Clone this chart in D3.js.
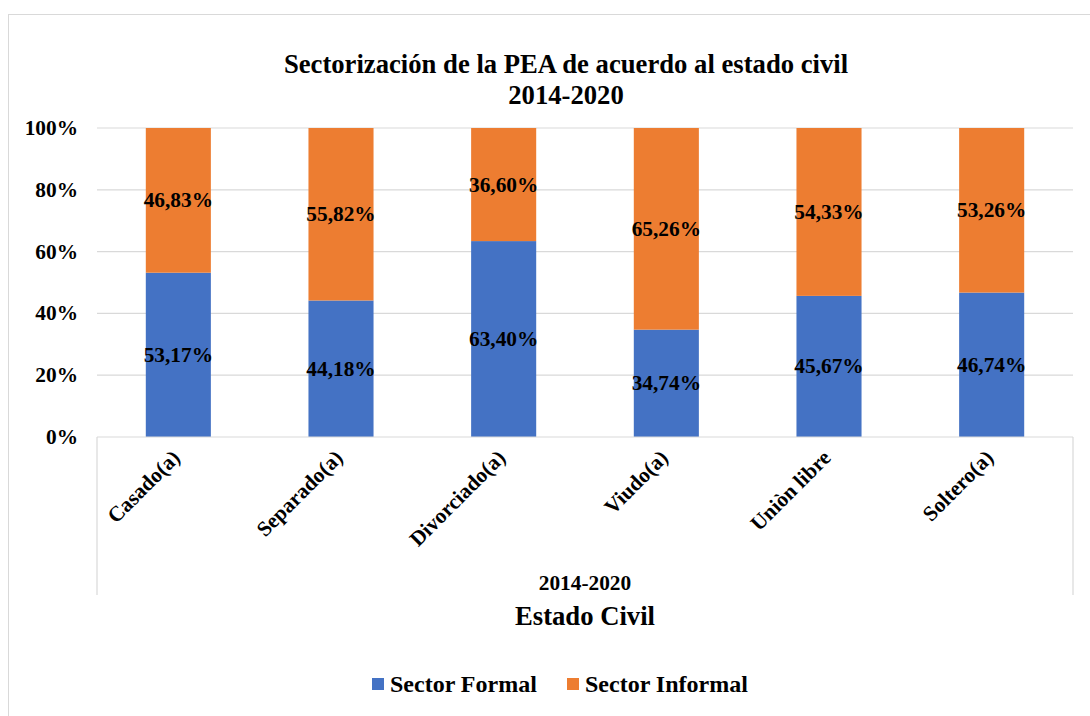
<!DOCTYPE html>
<html>
<head>
<meta charset="utf-8">
<script src="https://cdn.jsdelivr.net/npm/d3@7"></script>
</head>
<body style="margin:0; background:#fff">
<svg id="chart" width="1090" height="716"></svg>
<script>
var categories = ["Casado(a)", "Separado(a)", "Divorciado(a)", "Viudo(a)", "Uniòn libre", "Soltero(a)"];
var formal = [53.17, 44.18, 63.40, 34.74, 45.67, 46.74];
var informal = [46.83, 55.82, 36.60, 65.26, 54.33, 53.26];
var seriesNames = ["Sector Formal", "Sector Informal"];
var seriesColors = ["#4472C4", "#ED7D31"];
var yTicks = [0, 20, 40, 60, 80, 100];

var FONT = "'Liberation Serif'";
var svg = d3.select("#chart");

function label(sel, size) {
    return sel.style("font-family", FONT)
        .style("font-weight", "bold")
        .style("font-size", size + "px")
        .attr("fill", "#000");
}

// chart frame
svg.append("rect")
    .attr("x", 8.5).attr("y", 14.5)
    .attr("width", 1100).attr("height", 720)
    .attr("fill", "white")
    .attr("stroke", "#d9d9d9");

var margin = {top: 128, left: 97, right: 1073, bottom: 437};

var x = d3.scaleBand()
    .domain(categories)
    .range([margin.left, margin.right])
    .padding(0);

var y = d3.scaleLinear()
    .domain([0, 100])
    .range([margin.bottom, margin.top]);

var fmt = function(v) { return v.toFixed(2).replace(".", ",") + "%"; };

// title
label(svg.append("text"), 26.67)
    .attr("x", 566).attr("y", 73)
    .attr("text-anchor", "middle")
    .text("Sectorización de la PEA de acuerdo al estado civil");
label(svg.append("text"), 26.67)
    .attr("x", 566).attr("y", 104)
    .attr("text-anchor", "middle")
    .text("2014-2020");

// gridlines
svg.selectAll(".grid")
    .data(yTicks.filter(function(d) { return d > 0; }))
    .enter()
    .append("line")
    .attr("x1", margin.left).attr("x2", margin.right)
    .attr("y1", function(d) { return y(d); })
    .attr("y2", function(d) { return y(d); })
    .attr("stroke", "#d9d9d9")
    .attr("stroke-width", 1.2);

// y axis labels
label(svg.selectAll(".ylab")
    .data(yTicks)
    .enter()
    .append("text"), 21.33)
    .attr("x", 78)
    .attr("y", function(d) { return y(d) + 7; })
    .attr("text-anchor", "end")
    .text(function(d) { return d + "%"; });

// stacked bars
var rows = categories.map(function(c, i) {
    return {cat: c, formal: formal[i], informal: informal[i]};
});
var stack = d3.stack().keys(["formal", "informal"])(rows);

var bw = x.bandwidth() * 0.4;
var off = x.bandwidth() * 0.3;

stack.forEach(function(layer, k) {
    svg.selectAll(".bar" + k)
        .data(layer)
        .enter()
        .append("rect")
        .attr("x", function(d) { return x(d.data.cat) + off; })
        .attr("y", function(d) { return y(d[1]); })
        .attr("width", bw)
        .attr("height", function(d) { return y(d[0]) - y(d[1]); })
        .attr("fill", seriesColors[k]);
});
stack.forEach(function(layer, k) {
    label(svg.selectAll(".lab" + k)
        .data(layer)
        .enter()
        .append("text"), 21.33)
        .attr("x", function(d) { return x(d.data.cat) + x.bandwidth() / 2; })
        .attr("y", function(d) { return (y(d[0]) + y(d[1])) / 2 + 7; })
        .attr("text-anchor", "middle")
        .text(function(d) { return fmt(d[1] - d[0]); });
});

// category axis box
svg.append("line")
    .attr("x1", margin.left).attr("x2", margin.right)
    .attr("y1", margin.bottom).attr("y2", margin.bottom)
    .attr("stroke", "#d9d9d9").attr("stroke-width", 1.2);
svg.append("line")
    .attr("x1", margin.left).attr("x2", margin.left)
    .attr("y1", margin.bottom).attr("y2", 595)
    .attr("stroke", "#d9d9d9").attr("stroke-width", 1.2);
svg.append("line")
    .attr("x1", margin.right).attr("x2", margin.right)
    .attr("y1", margin.bottom).attr("y2", 595)
    .attr("stroke", "#d9d9d9").attr("stroke-width", 1.2);

// rotated category labels
label(svg.selectAll(".xlab")
    .data(categories)
    .enter()
    .append("text"), 21.33)
    .attr("transform", function(d) {
        return "translate(" + (x(d) + x.bandwidth() / 2 + 3) + ",459) rotate(-45)";
    })
    .attr("text-anchor", "end")
    .text(function(d) { return d; });

var midX = (margin.left + margin.right) / 2;

label(svg.append("text"), 21.33)
    .attr("x", midX).attr("y", 590)
    .attr("text-anchor", "middle")
    .text("2014-2020");

label(svg.append("text"), 26.67)
    .attr("x", midX).attr("y", 625)
    .attr("text-anchor", "middle")
    .text("Estado Civil");

// legend
var legendX = [372, 567];
seriesNames.forEach(function(name, i) {
    svg.append("rect")
        .attr("x", legendX[i]).attr("y", 678)
        .attr("width", 12).attr("height", 12)
        .attr("fill", seriesColors[i]);
    label(svg.append("text"), 24)
        .attr("x", legendX[i] + 18).attr("y", 692)
        .text(name);
});
</script>
</body>
</html>
